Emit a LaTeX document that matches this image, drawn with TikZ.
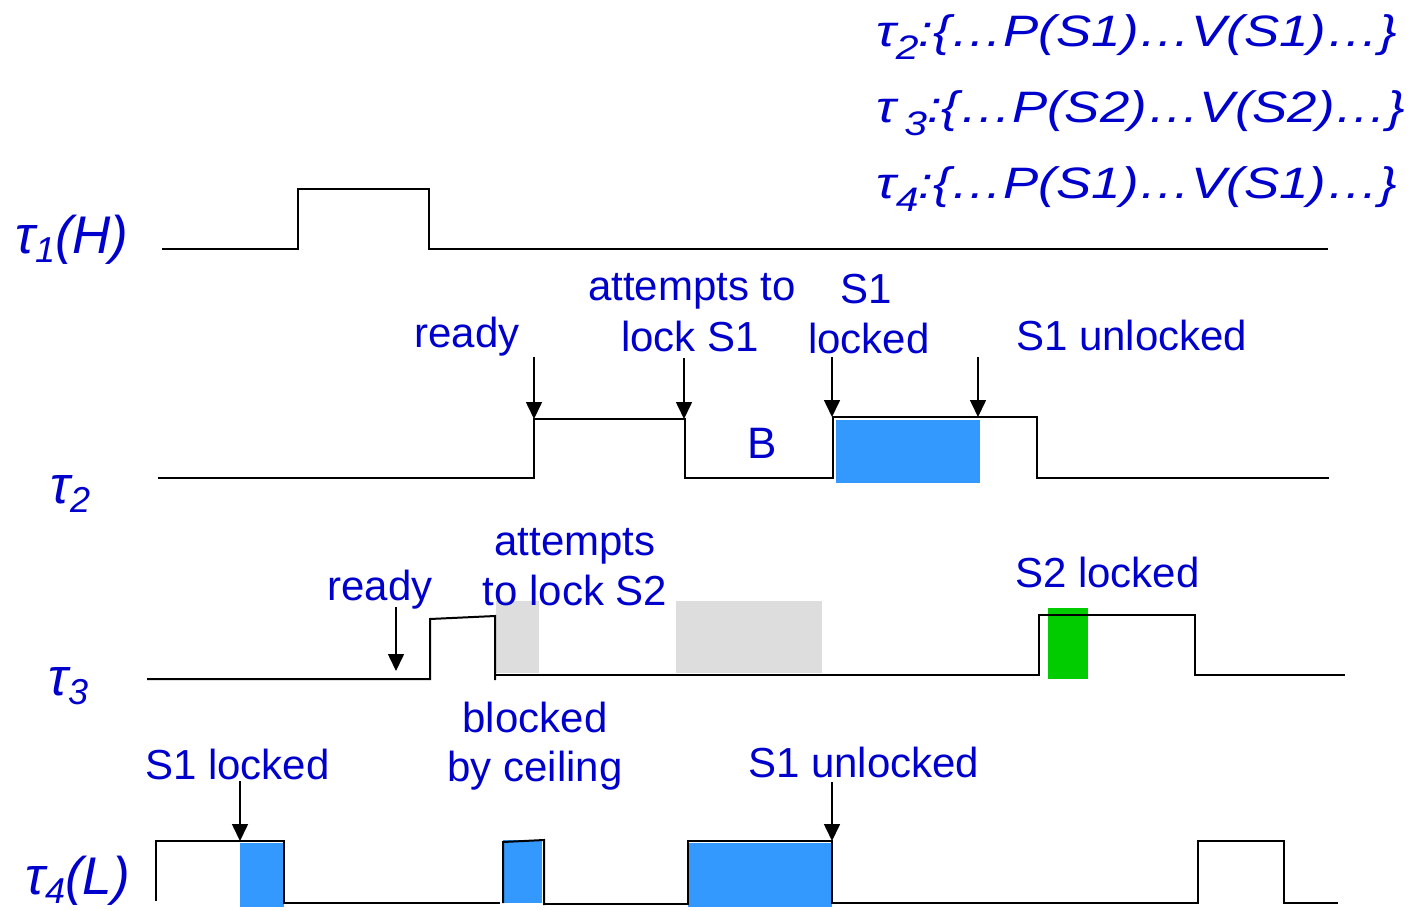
\documentclass[tikz,border=0pt]{standalone}
\usepackage{graphicx}
\usepackage{fontspec}
\setmainfont{Liberation Sans}
\usetikzlibrary{arrows.meta}
\definecolor{txtblue}{RGB}{0,0,204}
\definecolor{lockblue}{RGB}{51,153,255}
\definecolor{blockgray}{RGB}{221,221,221}
\definecolor{lockgreen}{RGB}{0,204,0}
\newcommand\tsub[1]{\raisebox{-0.18em}{\fontsize{36}{36}\selectfont #1}}
\newcommand\tsubs[1]{\raisebox{-0.3em}{\fontsize{34}{34}\selectfont #1}}
\newcommand\wide[1]{\scalebox{1.2}[1]{#1}}
\begin{document}
\begin{tikzpicture}[x=1pt,y=-1pt,
  lbl/.style={text=txtblue,inner sep=0pt,anchor=base,font=\fontsize{42}{48}\selectfont},
  tlab/.style={text=txtblue,inner sep=0pt,anchor=base west,font=\fontsize{53}{58}\selectfont\itshape},
  code/.style={text=txtblue,inner sep=0pt,anchor=base west,font=\fontsize{44}{50}\selectfont\itshape},
  wave/.style={draw=black,line width=2pt,line join=miter},
  arr/.style={draw=black,line width=1.6pt,-{Triangle[length=17pt,width=16pt]}},
  lockbox/.style={fill=lockblue,draw=none},
  graybox/.style={fill=blockgray,draw=none},
  greenbox/.style={fill=lockgreen,draw=none}]
\path[use as bounding box] (0,0) rectangle (1420,910);

% code listing
\node[code] (c2) at (876,46) {\wide{τ\tsubs{2}:\{…P(S1)…V(S1)…\}}};
\node[code] (c3) at (876,122) {\wide{τ\hspace{7pt}\tsubs{3}:\{…P(S2)…V(S2)…\}}};
\node[code] (c4) at (876,198) {\wide{τ\tsubs{4}:\{…P(S1)…V(S1)…\}}};

% task labels
\node[tlab] (t1) at (15,253) {τ\tsub{1}(H)};
\node[tlab] (t2) at (50,503) {τ\tsub{2}};
\node[tlab] (t3) at (48,695) {τ\tsub{3}};
\node[tlab] (t4) at (25,894) {τ\tsub{4}(L)};

% filled regions
\fill[lockbox] (836,420) rectangle (980,483);
\fill[graybox] (496,601) rectangle (539,673);
\fill[graybox] (676,601) rectangle (822,673);
\fill[greenbox] (1048,608) rectangle (1088,679);
\fill[lockbox] (240,843) rectangle (284,907);
\fill[lockbox] (503,840) rectangle (542,903);
\fill[lockbox] (688,843) rectangle (832,907);

% tau1
\draw[wave] (162,249) -- (298,249) -- (298,189) -- (429,189) -- (429,249) -- (1328,249);
% tau2
\draw[wave] (158,478) -- (534,478) -- (534,419) -- (685,419) -- (685,478) -- (833,478)
  -- (833,417) -- (1037,417) -- (1037,478) -- (1329,478);
% tau3
\draw[wave] (147,679) -- (430,679) -- (430,619) -- (495,616) -- (495,680);
\draw[wave] (495,675) -- (1039,675) -- (1039,615) -- (1195,615) -- (1195,675) -- (1345,675);
% tau4
\draw[wave] (156,901) -- (156,841) -- (284,841) -- (284,903) -- (500,903);
\draw[wave] (503,903) -- (503,842) -- (544,840) -- (544,905);
\draw[wave] (545,904) -- (688,904) -- (688,841) -- (832,841) -- (832,903) -- (1198,903)
  -- (1198,841) -- (1284,841) -- (1284,903) -- (1338,903);

% annotations
\node[lbl] (rdy2) at (467,347) {ready};
\node[lbl] (att2) at (692,300) {attempts to};
\node[lbl] (lck2) at (690,351) {lock S1};
\node[lbl] (s1a) at (866,303) {S1};
\node[lbl] (lkd2) at (869,353) {locked};
\node[lbl,anchor=base west] (unl2) at (1016,350) {S1 unlocked};
\node[lbl,font=\fontsize{44}{48}\selectfont] (bB) at (762,458) {B};
\node[lbl] (rdy3) at (380,600) {ready};
\node[lbl] (att3) at (575,555) {attempts};
\node[lbl] (lck3) at (575,605) {to lock S2};
\node[lbl,anchor=base west] (s2l) at (1015,587) {S2 locked};
\node[lbl] (blk) at (535,732) {blocked};
\node[lbl] (ceil) at (535,781) {by ceiling};
\node[lbl,anchor=base west] (s1l4) at (145,779) {S1 locked};
\node[lbl,anchor=base west] (unl4) at (748,777) {S1 unlocked};

% arrow end points
\coordinate (a1s) at (534,357); \coordinate (a1e) at (534,419);
\coordinate (a2s) at (684,358); \coordinate (a2e) at (684,419);
\coordinate (a3s) at (832,357); \coordinate (a3e) at (832,417);
\coordinate (a4s) at (978,357); \coordinate (a4e) at (978,417);
\coordinate (a5s) at (396,607); \coordinate (a5e) at (396,671);
\coordinate (a6s) at (240,781); \coordinate (a6e) at (240,841);
\coordinate (a7s) at (832,782); \coordinate (a7e) at (832,841);
\draw[arr] (a1s) -- (a1e);
\draw[arr] (a2s) -- (a2e);
\draw[arr] (a3s) -- (a3e);
\draw[arr] (a4s) -- (a4e);
\draw[arr] (a5s) -- (a5e);
\draw[arr] (a6s) -- (a6e);
\draw[arr] (a7s) -- (a7e);
\end{tikzpicture}
\end{document}
